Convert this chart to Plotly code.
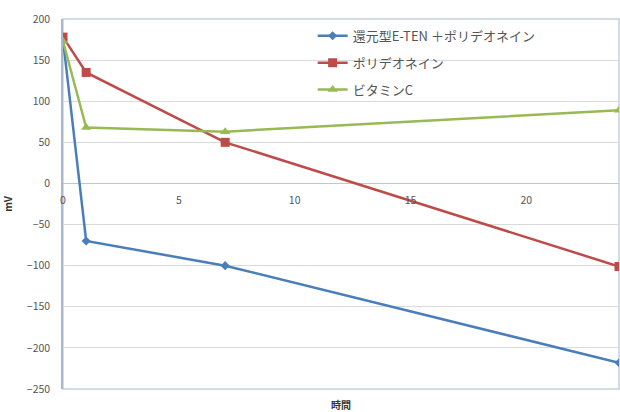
import plotly.graph_objects as go

hours = [0, 1, 7, 24]
series_names = ["還元型E-TEN ＋ポリデオネイン", "ポリデオネイン", "ビタミンC"]
eten_values = [175, -70, -100, -218]
poly_values = [178, 135, 50, -101]
vitc_values = [173, 68, 63, 89]
x_ticks = [0, 5, 10, 15, 20]
y_ticks = [-250, -200, -150, -100, -50, 0, 50, 100, 150, 200]

colors = ["#4A7EBB", "#BE4B48", "#98B954"]
symbols = ["diamond", "square", "triangle-up"]
sizes = [7, 9, 9]

fig = go.Figure()
for i, (name, vals, c, s, sz) in enumerate(zip(series_names, [eten_values, poly_values, vitc_values], colors, symbols, sizes)):
    fig.add_trace(go.Scatter(
        x=hours, y=vals, name=name, mode="lines+markers", legendgroup=f"g{i}",
        line=dict(color=c, width=2.5),
        marker=dict(symbol=s, size=sz, color=c),
    ))

font_family = "Noto Sans CJK JP, Noto Sans, sans-serif"
fig.update_layout(
    width=620, height=412,
    margin=dict(l=63, r=1, t=19, b=23),
    paper_bgcolor="white", plot_bgcolor="white",
    font=dict(family=font_family, size=10, color="#555555"),
    showlegend=True,
    legend=dict(
        x=0.449, y=0.995, xanchor="left", yanchor="top",
        bgcolor="rgba(0,0,0,0)", font=dict(size=13, color="#555555"),
        itemwidth=30, tracegroupgap=7,
    ),
    xaxis=dict(
        range=[0, 24], tickvals=x_ticks, showgrid=False, zeroline=False,
        anchor="free", position=(389 - 183) / 370,
        showline=False, ticks="", ticklabelstandoff=9,
        tickfont=dict(size=10.5, color="#555555"),
    ),
    yaxis=dict(
        range=[-250, 200], tickvals=y_ticks, showgrid=True,
        gridcolor="#D9D9D9", gridwidth=1, zeroline=True,
        zerolinecolor="#BDC6D3", zerolinewidth=1.2,
        showline=True, linecolor="#A9B8CF", linewidth=1.5,
        ticks="", ticklabelstandoff=9,
        tickfont=dict(size=10.5, color="#555555"),
        title=dict(text="<b>mV</b>", font=dict(size=10, color="#333333"), standoff=12),
    ),
    shapes=[dict(type="rect", xref="paper", yref="paper", x0=0, x1=1, y0=0, y1=1,
                 line=dict(color="#C5D0E0", width=1.5), layer="below")],
    annotations=[dict(text="<b>時間</b>", xref="paper", yref="paper", x=0.5, y=(389 - 404) / 370,
                      yanchor="middle", showarrow=False, font=dict(size=10, color="#333333"))],
)

fig.write_html("out.html")
